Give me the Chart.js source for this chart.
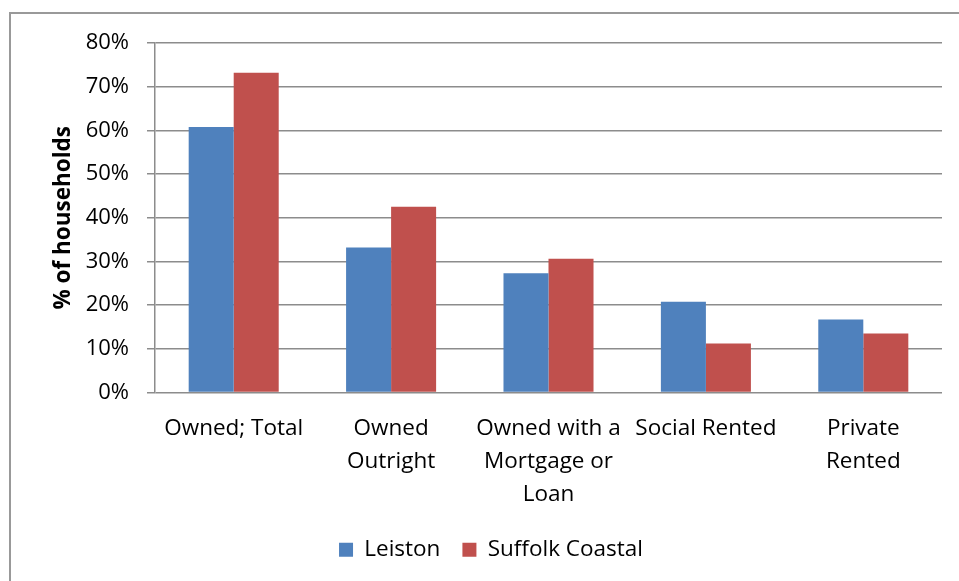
<!DOCTYPE html>
<html>
<head>
<meta charset="utf-8">
<script src="https://cdn.jsdelivr.net/npm/chart.js@4.4.1/dist/chart.umd.min.js"></script>
<style>
  html, body { margin: 0; padding: 0; background: #ffffff; }
  #wrap { position: relative; width: 959px; height: 581px; }
  canvas { display: block; }
</style>
</head>
<body>
<div id="wrap"><canvas id="c" width="959" height="581"></canvas></div>
<script>
const categories = [
  ["Owned; Total"],
  ["Owned", "Outright"],
  ["Owned with a", "Mortgage or", "Loan"],
  ["Social Rented"],
  ["Private", "Rented"]
];
const seriesNames = ["Leiston", "Suffolk Coastal"];
const leiston = [60.8, 33.2, 27.3, 20.8, 16.7];
const suffolkCoastal = [73.2, 42.5, 30.6, 11.2, 13.5];
const yTicks = [0, 10, 20, 30, 40, 50, 60, 70, 80];

const FONT = "'Open Sans', 'DejaVu Sans', sans-serif";
const GRID = '#8c8c8c';

const framePlugin = {
  id: 'frame',
  beforeDraw(chart) {
    const ctx = chart.ctx;
    ctx.save();
    ctx.strokeStyle = '#999999';
    ctx.lineWidth = 2;
    ctx.beginPath();
    ctx.moveTo(10, 581);
    ctx.lineTo(10, 13);
    ctx.lineTo(959, 13);
    ctx.stroke();
    ctx.restore();
  }
};

new Chart(document.getElementById('c'), {
  type: 'bar',
  data: {
    labels: categories,
    datasets: [
      { label: seriesNames[0], data: leiston, backgroundColor: '#4F81BD', borderWidth: 0 },
      { label: seriesNames[1], data: suffolkCoastal, backgroundColor: '#C0504D', borderWidth: 0 }
    ]
  },
  options: {
    responsive: false,
    animation: false,
    devicePixelRatio: 1,
    layout: { padding: { left: 40, right: 17, top: 43, bottom: 10 } },
    datasets: { bar: { categoryPercentage: 0.572, barPercentage: 1.0 } },
    plugins: {
      legend: {
        position: 'bottom',
        labels: {
          boxWidth: 14, boxHeight: 14, padding: 22,
          color: '#000000',
          font: { family: FONT, size: 22.5 }
        }
      },
      tooltip: { enabled: false },
      title: { display: false }
    },
    scales: {
      x: {
        grid: { display: false, drawTicks: false },
        border: { display: false },
        ticks: {
          autoSkip: false, maxRotation: 0, minRotation: 0, padding: 20,
          color: '#000000',
          font: { family: FONT, size: 22.5, lineHeight: 1.4667 }
        },
        afterFit(s) { s.height = 124; }
      },
      y: {
        min: 0, max: 80,
        afterBuildTicks(s) { s.ticks = yTicks.map(v => ({ value: v })); },
        grid: { color: GRID, lineWidth: 1.5, drawTicks: true, tickLength: 8, tickColor: GRID },
        border: { display: true, color: GRID, width: 1.5 },
        ticks: {
          padding: 18, color: '#000000',
          font: { family: FONT, size: 22 },
          callback: v => v + '%'
        },
        title: {
          display: true, text: '% of households', color: '#000000',
          padding: { top: 10, bottom: 0 },
          font: { family: FONT, size: 22.5, weight: 'bold' }
        },
        afterFit(s) { s.width = 115; }
      }
    }
  },
  plugins: [framePlugin]
});
</script>
</body>
</html>
